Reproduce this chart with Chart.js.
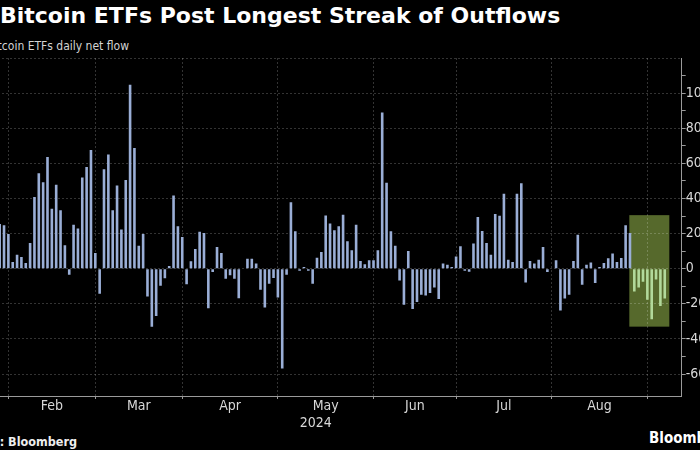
<!DOCTYPE html>
<html>
<head>
<meta charset="utf-8">
<script src="https://cdn.jsdelivr.net/npm/chart.js@4"></script>
<style>
  html, body { margin: 0; padding: 0; background: #000; width: 700px; height: 450px; overflow: hidden; position: relative; }
  .t { position: absolute; white-space: nowrap; }
  #title { left: 0; top: 5px; font: bold 22px/22px "DejaVu Sans", sans-serif; color: #fff; }
  #sub { right: 571px; top: 40px; font: 12px/12px "DejaVu Sans Condensed", "DejaVu Sans", sans-serif; color: #d4d4d4; text-align: right; }
  #src { right: 623px; top: 435px; font: bold 12.5px/13px "DejaVu Sans Condensed", "DejaVu Sans", sans-serif; color: #eee; text-align: right; }
  #logo { left: 649px; top: 431px; font: bold 15px/15px "DejaVu Sans Condensed", "DejaVu Sans", sans-serif; color: #fff; }
  #wrap { position: absolute; left: -50px; top: 0; width: 780px; height: 450px; }
</style>
</head>
<body>
<div id="title" class="t">Bitcoin ETFs Post Longest Streak of Outflows</div>
<div id="sub" class="t">Bitcoin ETFs daily net flow</div>
<div id="src" class="t">Source: Bloomberg</div>
<div id="logo" class="t">Bloomberg</div>
<div id="wrap"><canvas id="chart"></canvas></div>

<script>
// daily net flow, $ millions, one value per trading day (Jan only the last visible days)
const flowsJan = [255, 247, 198];
const flowsFeb = [38, 80, 67, 32, 147, 408, 543, 493, 636, 341, 478, 333, 133, -34, 250, 229, 520, 579, 676, 90];
const flowsMar = [-143, 566, 650, 333, 474, 223, 505, 1048, 688, 131, 198, -158, -330, -269, -97, -55, 15, 417, 242, 181];
const flowsApr = [-88, 42, 112, 210, 204, -225, -19, 124, 90, -57, -38, -57, -168, 2, 57, 57, 29, -120, -221, -86, -53, -164];
const flowsMay = [-568, -34, 379, 213, -11, 10, -11, -86, 63, 95, 303, 257, 219, 242, 307, 156, 105, 250, 44, 25, 48, 48];
const flowsJun = [105, 890, 490, 213, 131, -67, -206, 101, -229, -190, -149, -152, -139, -107, -173, 29, 23, 10, 70];
const flowsJul = [128, -11, -17, 143, 295, 215, 147, 80, 312, 301, 427, 51, 38, 427, 486, -78, 44, 29, 51, 124, -19, 0];
const flowsAug = [48, -238, -170, -149, 44, 194, -91, 23, 36, -82, 10, 32, 59, 86, 38, 61, 248, 204, -130, -107, -74, -177];
const flowsSep = [-288, -62, -212, -170];

const monthNames = ['Jan', 'Feb', 'Mar', 'Apr', 'May', 'Jun', 'Jul', 'Aug', 'Sep'];
const monthFlows = [flowsJan, flowsFeb, flowsMar, flowsApr, flowsMay, flowsJun, flowsJul, flowsAug, flowsSep];
const yearLabel = '2024';
const streakDays = 8;          // outflow streak, highlighted
const streakBoxTop = 305;      // highlight box, in $M
const streakBoxBottom = -330;

const yMin = -725, yMax = 1200;
const xMin = -11.43, xMax = 156.9;

const blue = '#9aaed6';
const green = '#b2d99b';
const gridColor = 'rgba(255,255,255,0.2)';
const axisColor = '#9a9a9a';
const labelColor = '#d8d8d8';

// flatten months into trading-day index
const values = [];
const boundaries = [];   // last trading day of each month
const monthLabels = [];  // {at, text}
monthFlows.forEach((arr, m) => {
  arr.forEach(v => values.push(v));
  if (m < monthFlows.length - 1) boundaries.push(values.length - 1);
});
for (let m = 1; m < boundaries.length; m++) {
  monthLabels.push({ at: (boundaries[m - 1] + boundaries[m]) / 2, text: monthNames[m] });
}
const streakFirst = values.length - streakDays;

const streakBox = {
  id: 'streakBox',
  beforeDraw(chart) {
    const { ctx, scales: { x, y } } = chart;
    const l = x.getPixelForValue(streakFirst - 1.15);
    const r = x.getPixelForValue(values.length - 1 + 1.05);
    const t = y.getPixelForValue(streakBoxTop);
    const b = y.getPixelForValue(streakBoxBottom);
    ctx.save();
    ctx.fillStyle = '#56692c';
    ctx.fillRect(l, t, r - l, b - t);
    ctx.restore();
  }
};

Chart.defaults.font.family = '"DejaVu Sans Condensed", "DejaVu Sans", sans-serif';

new Chart(document.getElementById('chart'), {
  type: 'bar',
  data: {
    datasets: [{
      data: values.map((v, i) => ({ x: i, y: v })),
      backgroundColor: c => c.dataIndex >= streakFirst ? green : blue,
      barPercentage: 0.6,
      categoryPercentage: 1
    }]
  },
  options: {
    responsive: true,
    maintainAspectRatio: false,
    animation: false,
    layout: { padding: { top: 58, left: 0, right: 0, bottom: 0 } },
    plugins: { legend: { display: false }, tooltip: { enabled: false } },
    scales: {
      x: {
        type: 'linear', min: xMin, max: xMax, offset: false,
        afterBuildTicks: s => {
          s.ticks = boundaries.map(v => ({ value: v }))
            .concat(monthLabels.map(m => ({ value: m.at })))
            .sort((a, b) => a.value - b.value);
        },
        ticks: {
          autoSkip: false, maxRotation: 0, padding: 0, color: labelColor,
          font: { size: 14, lineHeight: 1 },
          callback: v => {
            const m = monthLabels.find(o => o.at === v);
            return m ? m.text : '';
          }
        },
        grid: {
          offset: false,
          color: c => c.tick && boundaries.includes(c.tick.value) ? gridColor : 'transparent',
          tickColor: c => c.tick && boundaries.includes(c.tick.value) ? axisColor : 'transparent',
          tickLength: 3
        },
        border: { color: axisColor, dash: [2, 2] },
        afterFit: s => { s.height = 20; }
      },
      xYear: {
        type: 'linear', position: 'bottom', min: xMin, max: xMax, offset: false, weight: 1,
        afterBuildTicks: s => { s.ticks = [{ value: (xMin + xMax) / 2 }]; },
        ticks: {
          autoSkip: false, maxRotation: 0, padding: 0, color: labelColor,
          font: { size: 14, lineHeight: 1 },
          callback: () => yearLabel
        },
        grid: { display: false, drawTicks: false, offset: false },
        border: { display: false },
        afterFit: s => { s.height = 34; }
      },
      y: {
        position: 'right', min: yMin, max: yMax,
        ticks: {
          stepSize: 100, autoSkip: false, padding: 0, color: labelColor,
          font: { size: 14 },
          callback: v => (v % 200 === 0 && v !== yMax) ? v : ''
        },
        grid: {
          color: c => c.tick && c.tick.value % 200 === 0 ? gridColor : 'transparent',
          tickColor: c => c.tick && c.tick.value % 100 === 0 && c.tick.value !== yMax ? axisColor : 'transparent',
          tickLength: 4
        },
        border: { color: axisColor, dash: [2, 2] },
        afterFit: s => { s.width = 48.3; }
      }
    }
  },
  plugins: [streakBox]
});
</script>
</body>
</html>
